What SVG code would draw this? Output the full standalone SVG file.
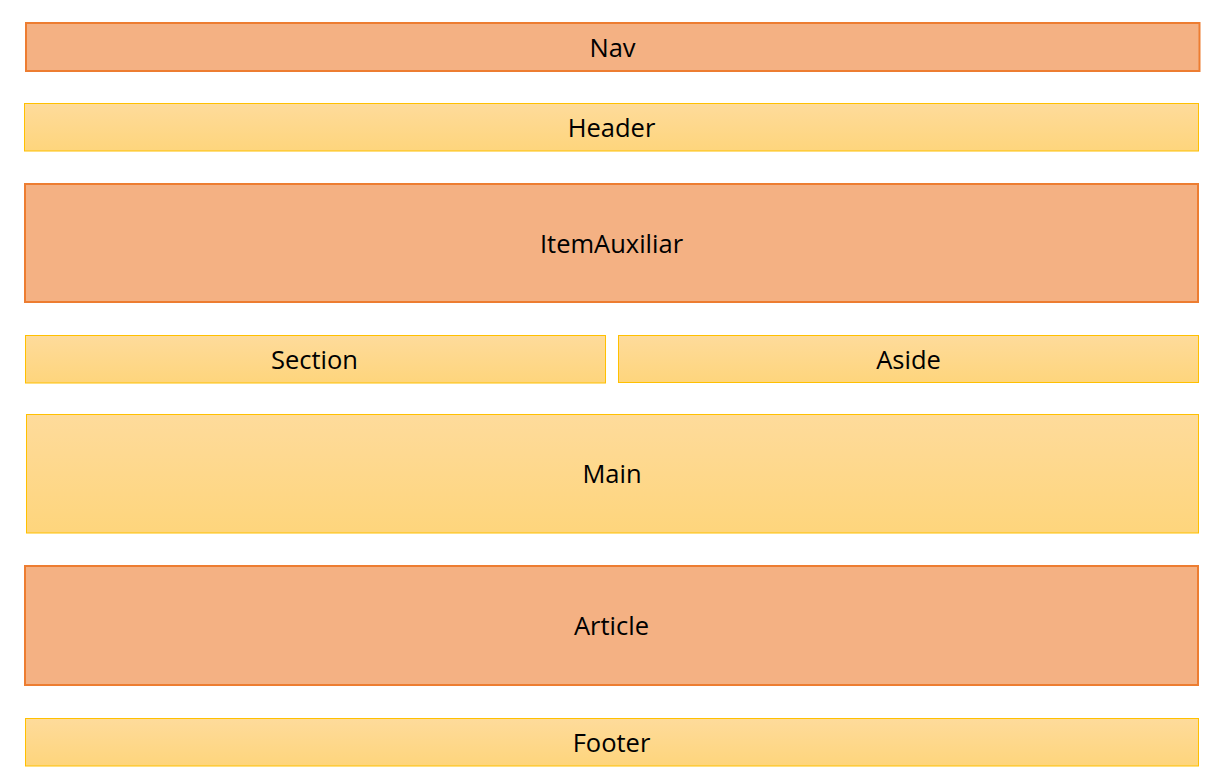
<svg xmlns="http://www.w3.org/2000/svg" width="1231" height="783" viewBox="0 0 1231 783">
<defs>
<linearGradient id="yg" x1="0" y1="0" x2="0" y2="1">
<stop offset="0" stop-color="#FEDB9B"/>
<stop offset="1" stop-color="#FED57C"/>
</linearGradient>
</defs>
<style>
.o{fill:#F4B183;stroke:#ED7D31;stroke-width:2}
.y{fill:url(#yg);stroke:#FFC000;stroke-width:1}
text{font-family:"Open Sans","Liberation Sans",sans-serif;font-size:25.5px;fill:#000;text-anchor:middle;dominant-baseline:central}
</style>
<rect width="1231" height="783" fill="#fff"/>
<g id="nav"><rect class="o" x="26" y="23" width="1173.5" height="48"/><text x="612.5" y="46.5">Nav</text></g>
<g id="header"><rect class="y" x="24.5" y="103.5" width="1174" height="47.5"/><text x="611.5" y="127">Header</text></g>
<g id="itemauxiliar"><rect class="o" x="25" y="184" width="1173" height="118"/><text x="611.5" y="242.5">ItemAuxiliar</text></g>
<g id="section"><rect class="y" x="25.5" y="335.5" width="580" height="47.5"/><text x="314.5" y="359">Section</text></g>
<g id="aside"><rect class="y" x="618.5" y="335.5" width="580" height="47"/><text x="908.5" y="359">Aside</text></g>
<g id="main"><rect class="y" x="26.5" y="414.5" width="1172" height="118.5"/><text x="612" y="473">Main</text></g>
<g id="article"><rect class="o" x="25" y="566" width="1173" height="119"/><text x="611.5" y="625">Article</text></g>
<g id="footer"><rect class="y" x="25.5" y="718.5" width="1173" height="47.5"/><text x="611.5" y="742">Footer</text></g>
<g id="connectors"></g>
</svg>
